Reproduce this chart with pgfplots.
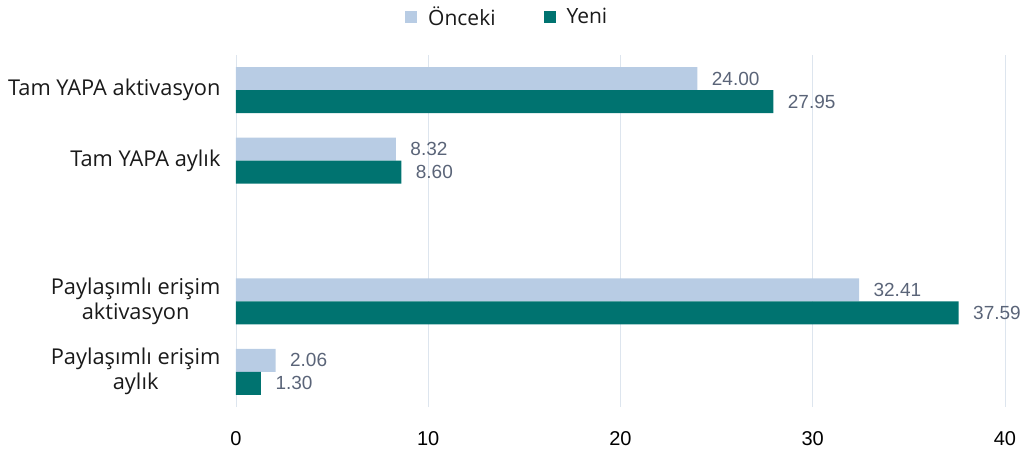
\documentclass[border=0pt]{standalone}
\usepackage{fontspec}
\setmainfont{Open Sans}
\newfontfamily\numfont{Liberation Sans}
\usepackage{pgfplots}
\pgfplotsset{compat=1.18}
\definecolor{cOld}{HTML}{B8CCE4}
\definecolor{cNew}{HTML}{007370}
\definecolor{cGrid}{HTML}{DDE5EE}
\definecolor{cVal}{HTML}{5A6478}
\definecolor{cText}{HTML}{1A1A1A}
\begin{document}
\begin{tikzpicture}
\path[use as bounding box] (-236pt,-43pt) rectangle (794pt,407pt);
\begin{axis}[
  scale only axis,
  width=769pt, height=352pt,
  xmin=0, xmax=40,
  ymin=-0.5, ymax=4.5,
  xbar, bar width=23pt,
  axis line style={draw=none},
  xtick={0,10,20,30,40},
  xticklabels={0,10,20,30,40},
  xmajorgrids, grid style={cGrid, line width=0.8pt},
  major tick length=0pt,
  ytick={0,1,3,4},
  yticklabels={{Paylaşımlı erişim\\aylık},{Paylaşımlı erişim\\aktivasyon},{Tam YAPA aylık},{Tam YAPA aktivasyon}},
  yticklabel style={align=center, font=\fontsize{21.8}{25}\selectfont, text=cText, xshift=-12pt},
  xticklabel style={font=\numfont\fontsize{20}{22}\selectfont, text=black, yshift=-21pt},
  /pgf/number format/assume math mode=true,
  nodes near coords,
  nodes near coords style={font=\numfont\fontsize{19}{22}\selectfont, text=cVal, anchor=west, xshift=11pt},
  /pgf/number format/.cd, fixed, fixed zerofill, precision=2, /tikz/.cd,
  legend style={at={(axis description cs:0.2198,1.108)}, anchor=west, draw=none, fill=none,
    legend columns=2, font=\fontsize{21}{24}\selectfont, text=cText, inner sep=0pt,
    /tikz/every even column/.append style={column sep=46pt},
    /tikz/every odd column/.append style={column sep=0pt}},
  legend image code/.code={\fill[#1,draw=none] (0pt,-6pt) rectangle (12pt,6pt);},
  legend cell align=left,
  clip=false,
]
\addplot[fill=cOld, draw=none, bar shift=11.5pt] coordinates {(2.06,0) (32.41,1) (8.32,3) (24.00,4)};
\addlegendentry{\hspace{9pt}Önceki}
\addplot[fill=cNew, draw=none, bar shift=-11.5pt] coordinates {(1.30,0) (37.59,1) (8.60,3) (27.95,4)};
\addlegendentry{\hspace{9pt}Yeni}
\end{axis}
\end{tikzpicture}
\end{document}
